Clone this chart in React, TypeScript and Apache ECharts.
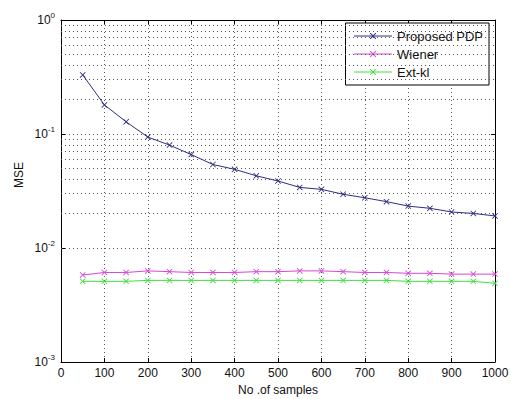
import React, { useEffect, useRef } from "react";
import * as echarts from "echarts";

const samples = [50, 100, 150, 200, 250, 300, 350, 400, 450, 500, 550, 600, 650, 700, 750, 800, 850, 900, 950, 1000];
const proposedPDP = [0.33, 0.18, 0.128, 0.094, 0.080, 0.066, 0.054, 0.049, 0.043, 0.0387, 0.034, 0.0327, 0.0296, 0.0276, 0.0255, 0.0233, 0.0223, 0.0207, 0.0201, 0.0191];
const wiener = [0.0058, 0.0061, 0.0061, 0.0063, 0.0062, 0.0061, 0.0061, 0.0061, 0.0062, 0.0062, 0.0063, 0.0063, 0.0062, 0.0061, 0.0061, 0.0060, 0.0060, 0.0059, 0.0059, 0.0059];
const extKl = [0.0051, 0.0051, 0.0051, 0.0052, 0.0052, 0.0052, 0.0052, 0.0052, 0.0052, 0.0052, 0.0052, 0.0052, 0.0052, 0.0052, 0.0052, 0.0051, 0.0051, 0.0051, 0.0051, 0.0049];
const minorGridValues = [
  0.002, 0.003, 0.004, 0.005, 0.006, 0.007, 0.008, 0.009,
  0.02, 0.03, 0.04, 0.05, 0.06, 0.07, 0.08, 0.09,
  0.2, 0.3, 0.4, 0.5, 0.6, 0.7, 0.8, 0.9,
];
const seriesNames = ["Proposed PDP", "Wiener", "Ext-kl"];
const seriesColors = ["#2e2e82", "#d24ad2", "#44dd44"];

const xSymbol = "path://M0,1L1,0L5,4L9,0L10,1L6,5L10,9L9,10L5,6L1,10L0,9L4,5Z";
const dotted = { type: [1, 3] as number[], color: "#555", width: 1 };
const FONT = "Liberation Sans, Arial, sans-serif";

export default function App() {
  const ref = useRef<HTMLDivElement>(null);
  useEffect(() => {
    document.body.style.margin = "0";
    const chart = echarts.init(ref.current!, null, { renderer: "svg" });
    const mk = (name: string, data: number[], color: string) => ({
      name,
      type: "line",
      data: samples.map((s, i) => [s, data[i]]),
      symbol: xSymbol,
      symbolSize: 6,
      showSymbol: true,
      lineStyle: { color, width: 1 },
      itemStyle: { color },
      z: 5,
    });
    chart.setOption({
      animation: false,
      backgroundColor: "#ffffff",
      textStyle: { fontFamily: FONT },
      grid: { left: 61, right: 16, top: 20, bottom: 37, containLabel: false, outerBoundsMode: "none" },
      legend: {
        data: seriesNames,
        orient: "vertical",
        right: 22,
        top: 23,
        backgroundColor: "#ffffff",
        borderColor: "#000",
        borderWidth: 1,
        borderRadius: 0,
        padding: [6, 6, 6, 8],
        itemWidth: 38,
        itemHeight: 8,
        itemGap: 4,
        lineStyle: { width: 1 },
        textStyle: { fontFamily: FONT, fontSize: 13, color: "#111", lineHeight: 14 },
      },
      xAxis: [
        {
          type: "value",
          min: 0,
          max: 1000,
          interval: 100,
          name: "No .of samples",
          nameLocation: "middle",
          nameGap: 22,
          nameTextStyle: { fontFamily: FONT, fontSize: 12, color: "#111" },
          axisLine: { show: true, onZero: false, lineStyle: { color: "#000", width: 1 } },
          axisTick: { show: true, inside: true, length: 4, lineStyle: { color: "#000" } },
          axisLabel: { fontFamily: FONT, fontSize: 12, color: "#111", margin: 5, formatter: (v: number) => String(v) },
          splitLine: { show: true, lineStyle: dotted },
        },
        {
          type: "value",
          position: "top",
          min: 0,
          max: 1000,
          interval: 100,
          axisLine: { show: true, onZero: false, lineStyle: { color: "#000", width: 1 } },
          axisTick: { show: true, inside: true, length: 4, lineStyle: { color: "#000" } },
          axisLabel: { show: false },
          splitLine: { show: false },
        },
      ],
      yAxis: [
        {
          type: "log",
          logBase: 10,
          min: 0.001,
          max: 1,
          axisLine: { show: true, onZero: false, lineStyle: { color: "#000", width: 1 } },
          axisTick: { show: true, inside: true, length: 4, lineStyle: { color: "#000" } },
          axisLabel: {
            margin: 6,
            formatter: (v: number) => "{b|10}{sup|" + Math.round(Math.log10(v)) + "}",
            rich: {
              b: { fontFamily: FONT, fontSize: 12, color: "#111" },
              sup: { fontFamily: FONT, fontSize: 8, color: "#111", padding: [0, 0, 9, 0] },
            },
          },
          splitLine: { show: true, lineStyle: dotted },
        },
        {
          type: "log",
          logBase: 10,
          min: 0.001,
          max: 1,
          position: "right",
          axisLine: { show: true, onZero: false, lineStyle: { color: "#000", width: 1 } },
          axisTick: { show: true, inside: true, length: 4, lineStyle: { color: "#000" } },
          axisLabel: { show: false },
          splitLine: { show: false },
        },
      ],
      graphic: [
        {
          type: "text",
          x: 19,
          y: 175,
          rotation: Math.PI / 2,
          style: { text: "MSE", fontFamily: FONT, fontSize: 12, fill: "#111", align: "center", verticalAlign: "middle" },
        },
      ],
      series: [
        {
          name: "grid",
          type: "line",
          data: [],
          z: 1,
          silent: true,
          markLine: {
            silent: true,
            symbol: ["none", "none"],
            label: { show: false },
            lineStyle: dotted,
            data: minorGridValues.map((v) => ({ yAxis: v })),
          },
        },
        mk(seriesNames[0], proposedPDP, seriesColors[0]),
        mk(seriesNames[1], wiener, seriesColors[1]),
        mk(seriesNames[2], extKl, seriesColors[2]),
      ],
    });
    return () => chart.dispose();
  }, []);
  return <div ref={ref} style={{ width: 511, height: 399 }} />;
}
